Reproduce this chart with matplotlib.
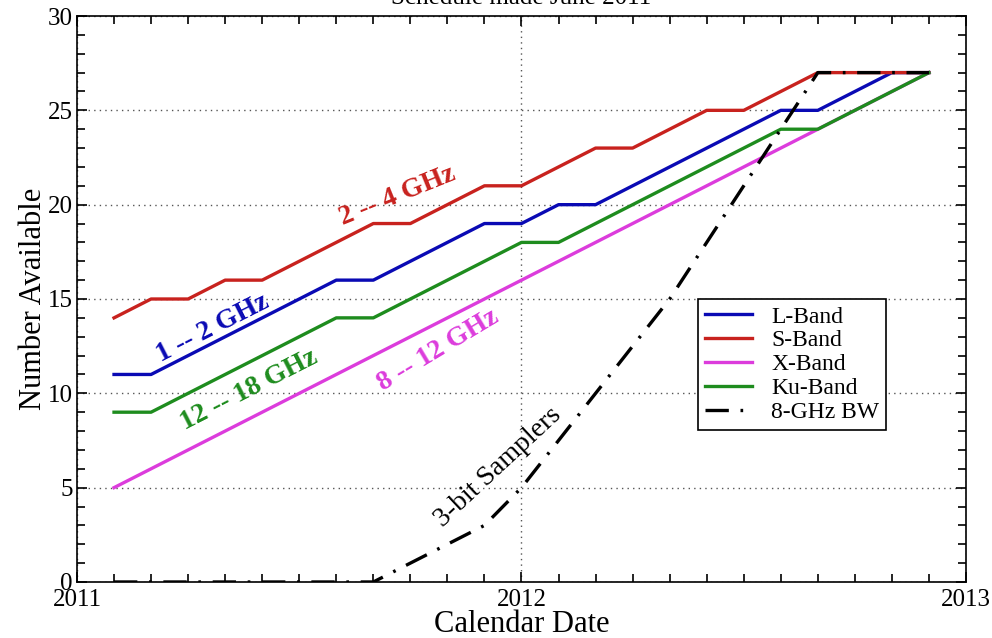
import matplotlib
matplotlib.use("Agg")
import matplotlib.pyplot as plt
from matplotlib.ticker import MultipleLocator
import numpy as np

plt.rcParams['font.family'] = ['Liberation Serif', 'DejaVu Serif']

# month index counted from Jan 2011 (1 = Feb 2011 ... 23 = Dec 2012)
month_index = list(range(1, 24))
l_band  = [11, 11, 12, 13, 14, 15, 16, 16, 17, 18, 19, 19, 20, 20, 21, 22, 23, 24, 25, 25, 26, 27, 27]
s_band  = [14, 15, 15, 16, 16, 17, 18, 19, 19, 20, 21, 21, 22, 23, 23, 24, 25, 25, 26, 27, 27, 27, 27]
x_band  = [5, 6, 7, 8, 9, 10, 11, 12, 13, 14, 15, 16, 17, 18, 19, 20, 21, 22, 23, 24, 25, 26, 27]
ku_band = [9, 9, 10, 11, 12, 13, 14, 14, 15, 16, 17, 18, 18, 19, 20, 21, 22, 23, 24, 24, 25, 26, 27]
bw_8ghz = [0, 0, 0, 0, 0, 0, 0, 0, 1, 2, 3, 5, 7.5, 10, 12.5, 15, 18, 21, 24, 27, 27, 27, 27]

series_names = ['L-Band', 'S-Band', 'X-Band', 'Ku-Band', '8-GHz BW']
year_ticks = [2011, 2012, 2013]

dates = 2011 + np.array(month_index) / 12.0

fig = plt.figure(figsize=(9.92, 6.38), dpi=100)
ax = fig.add_axes([0.0776, 0.0878, 0.8962, 0.8871])

lw = 2.4
ax.plot(dates, l_band, color='#0a0ab4', lw=lw, label=series_names[0], zorder=3)
ax.plot(dates, s_band, color='#c8221e', lw=lw, label=series_names[1], zorder=3)
ax.plot(dates, x_band, color='#dc3cdc', lw=lw, label=series_names[2], zorder=3)
ax.plot(dates, ku_band, color='#1e8c1e', lw=lw, label=series_names[3], zorder=3)
ax.plot(dates, bw_8ghz, color='black', lw=lw, linestyle=(0, (7, 3.5, 0.8, 3.5)),
        label=series_names[4], zorder=4)

ax.set_xlim(2011, 2013)
ax.set_ylim(0, 30)
ax.set_xticks(year_ticks)
ax.set_xticklabels([str(y) for y in year_ticks])
ax.xaxis.set_minor_locator(MultipleLocator(1 / 12))
ax.yaxis.set_major_locator(MultipleLocator(5))
ax.yaxis.set_minor_locator(MultipleLocator(1))
ax.tick_params(which='both', direction='in', top=True, right=True, labelsize=18, width=1.2)
ax.tick_params(which='major', length=7)
ax.tick_params(which='minor', length=6)
ax.tick_params(axis='x', pad=5)
ax.tick_params(axis='y', pad=3)
for sp in ax.spines.values():
    sp.set_linewidth(1.2)

ax.grid(True, which='major', linestyle=(0, (1, 3)), color='#555555', lw=1.0)

ax.set_xlabel('Calendar Date', fontsize=22, labelpad=-1)
ax.set_ylabel('Number Available', fontsize=22, labelpad=0)

ax.text(0.5, 1.0 + 12 / 566, 'Schedule made June 2011', transform=ax.transAxes,
        ha='center', va='baseline', fontsize=18)

# curve labels
ax.text(2011.722, 20.45, '2 -- 4 GHz', color='#c8221e', fontsize=20, fontweight='bold',
        rotation=22, ha='center', va='center', rotation_mode='anchor')
ax.text(2011.306, 13.46, '1 -- 2 GHz', color='#0a0ab4', fontsize=20, fontweight='bold',
        rotation=27, ha='center', va='center', rotation_mode='anchor')
ax.text(2011.387, 10.17, '12 -- 18 GHz', color='#1e8c1e', fontsize=20, fontweight='bold',
        rotation=27, ha='center', va='center', rotation_mode='anchor')
ax.text(2011.812, 12.3, '8 -- 12 GHz', color='#dc3cdc', fontsize=20, fontweight='bold',
        rotation=31, ha='center', va='center', rotation_mode='anchor')
ax.text(2011.947, 6.1, '3-bit Samplers', color='black', fontsize=20,
        rotation=43, ha='center', va='center', rotation_mode='anchor')

leg = ax.legend(loc='upper left', bbox_to_anchor=(0.6985, 0.5), fontsize=17,
                frameon=True, fancybox=False, edgecolor='black', framealpha=1,
                borderpad=0.3, labelspacing=0.1, handlelength=2.0, handletextpad=0.8,
                borderaxespad=0)
leg.get_frame().set_linewidth(1.2)

fig.savefig('out.png', dpi=100)
